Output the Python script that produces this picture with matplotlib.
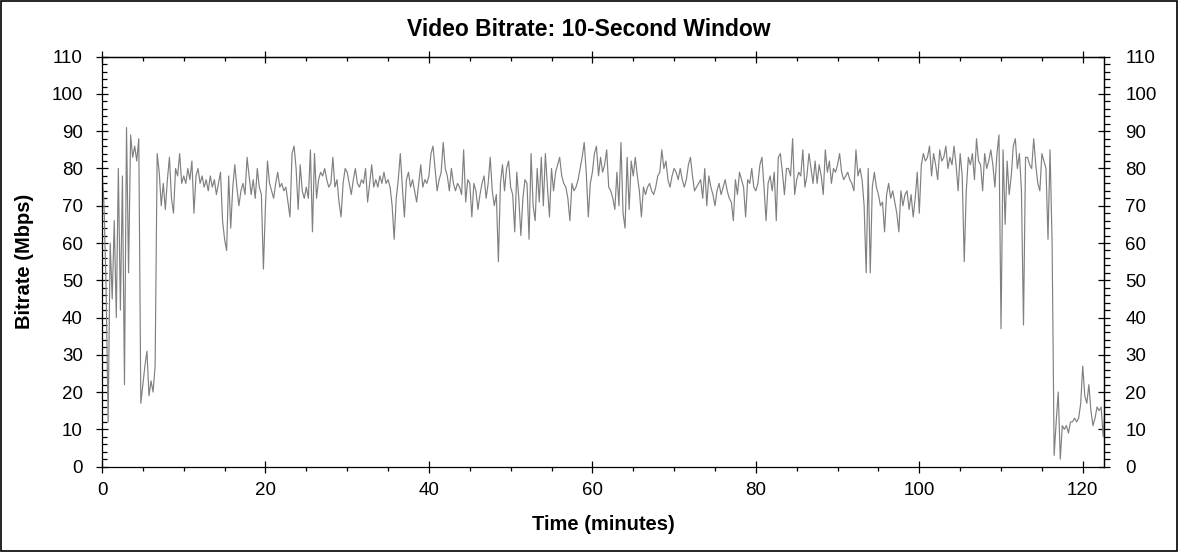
import matplotlib
matplotlib.use("Agg")
import matplotlib.pyplot as plt
import numpy as np
from matplotlib.ticker import MultipleLocator
from matplotlib.patches import Rectangle

plt.rcParams['font.family'] = ['Liberation Sans', 'DejaVu Sans']

# ---------------- data ----------------
SAMPLE_STEP_MIN = 0.25   # one value every 15 seconds

bitrate_mbps = [
    # 0 - 4.75 min
    80, 70, 48, 12, 60, 45, 66, 40, 80, 42, 78, 22, 91, 52, 89, 83, 86, 82, 88, 17,
    # 5 - 9.75
    22, 27, 31, 19, 23, 20, 27, 84, 79, 70, 76, 69, 77, 83, 72, 68, 80, 78, 84, 76,
    # 10 - 14.75
    78, 76, 80, 77, 82, 68, 78, 80, 76, 78, 75, 77, 74, 78, 75, 77, 73, 76, 79, 66,
    # 15 - 19.75
    61, 58, 78, 64, 75, 81, 75, 70, 74, 76, 73, 83, 78, 73, 77, 72, 80, 75, 73, 53,
    # 20 - 24.75
    70, 82, 76, 74, 72, 76, 79, 75, 76, 74, 75, 71, 67, 84, 86, 80, 69, 81, 74, 72,
    # 25 - 29.75
    75, 72, 85, 63, 84, 72, 77, 79, 78, 80, 77, 75, 76, 83, 75, 77, 71, 67, 76, 80,
    # 30 - 34.75
    79, 76, 73, 77, 80, 76, 75, 77, 76, 80, 71, 76, 81, 75, 77, 75, 78, 76, 79, 76,
    # 35 - 39.75
    77, 75, 70, 61, 72, 77, 84, 75, 67, 77, 79, 75, 77, 74, 71, 76, 81, 75, 77, 76,
    # 40 - 44.75
    78, 84, 86, 80, 74, 77, 79, 87, 80, 78, 74, 80, 76, 74, 76, 75, 73, 85, 71, 77,
    # 45 - 49.75
    76, 67, 76, 74, 69, 73, 76, 78, 72, 76, 83, 74, 70, 73, 55, 76, 81, 74, 80, 82,
    # 50 - 54.75
    75, 73, 63, 79, 72, 62, 72, 77, 76, 61, 84, 70, 66, 80, 71, 83, 70, 84, 75, 67,
    # 55 - 59.75
    80, 74, 79, 81, 83, 78, 76, 75, 72, 66, 76, 74, 75, 77, 80, 83, 87, 79, 67, 76,
    # 60 - 64.75
    79, 84, 86, 78, 83, 79, 81, 85, 75, 74, 72, 69, 79, 70, 87, 68, 64, 83, 69, 82,
    # 65 - 69.75
    78, 83, 78, 74, 67, 75, 73, 75, 76, 74, 73, 75, 78, 79, 85, 80, 82, 77, 75, 78,
    # 70 - 74.75
    80, 79, 77, 80, 77, 75, 77, 81, 83, 78, 74, 75, 76, 77, 72, 80, 70, 78, 75, 73,
    # 75 - 79.75
    70, 74, 76, 73, 75, 77, 74, 72, 71, 66, 77, 73, 79, 77, 75, 67, 77, 76, 80, 75,
    # 80 - 84.75
    74, 76, 81, 83, 75, 66, 76, 78, 74, 79, 66, 83, 84, 79, 73, 80, 80, 78, 88, 73,
    # 85 - 89.75
    77, 79, 78, 85, 75, 78, 84, 80, 76, 82, 76, 81, 78, 73, 85, 79, 82, 76, 80, 79,
    # 90 - 94.75
    81, 84, 79, 77, 78, 79, 77, 76, 74, 85, 78, 80, 77, 70, 52, 80, 52, 75, 79, 75,
    # 95 - 99.75
    73, 70, 71, 63, 73, 76, 72, 74, 71, 68, 63, 74, 70, 73, 74, 69, 73, 67, 72, 79,
    # 100 - 104.75
    68, 81, 84, 82, 83, 86, 78, 84, 81, 77, 85, 82, 83, 86, 80, 83, 81, 86, 81, 74,
    # 105 - 109.75
    84, 78, 55, 74, 83, 81, 84, 77, 88, 82, 81, 74, 84, 80, 82, 85, 81, 75, 84, 89,
    # 110 - 114.75
    37, 85, 65, 82, 73, 78, 86, 88, 80, 84, 74, 38, 83, 83, 81, 80, 88, 81, 76, 74,
    # 115 - 119.75
    84, 82, 80, 61, 85, 60, 3, 12, 20, 2, 11, 10, 11, 9, 12, 12, 13, 12, 13, 17,
    # 120 - 122.75
    27, 19, 17, 22, 15, 11, 13, 16, 15, 16, 8, 17,
]

x_tick_values = [0, 20, 40, 60, 80, 100, 120]
y_tick_values = [0, 10, 20, 30, 40, 50, 60, 70, 80, 90, 100, 110]

title_text = "Video Bitrate: 10-Second Window"
x_label_text = "Time (minutes)"
y_label_text = "Bitrate (Mbps)"

# ---------------- figure ----------------
W, H = 1178, 552
fig = plt.figure(figsize=(W / 100, H / 100), dpi=100)
fig.patch.set_facecolor("white")

left_px, right_px, top_px, bottom_px = 102, 1104, 56.7, 466.6
ax = fig.add_axes([left_px / W, 1 - bottom_px / H,
                   (right_px - left_px) / W, (bottom_px - top_px) / H])

time_min = np.arange(len(bitrate_mbps)) * SAMPLE_STEP_MIN
ax.plot(time_min, bitrate_mbps, color="#808080", linewidth=0.85)

ax.set_xlim(0, 122.6)
ax.set_ylim(0, 110)

for s in ax.spines.values():
    s.set_linewidth(0.9)
    s.set_color("black")

ax.set_xticks(x_tick_values)
ax.set_yticks(y_tick_values)
ax.xaxis.set_minor_locator(MultipleLocator(5))
ax.yaxis.set_minor_locator(MultipleLocator(2))

tick_font = 13.5
ax.tick_params(axis="both", which="major", direction="inout", length=8.6,
               width=0.9, labelsize=tick_font, colors="black",
               top=False, right=False)
ax.tick_params(axis="y", which="major", pad=9.5)
ax.tick_params(axis="x", which="major", pad=6.5)
ax.tick_params(axis="y", which="minor", direction="in", length=3.6, width=0.9,
               right=False)
ax.tick_params(axis="x", which="minor", direction="out", length=2.6, width=0.9,
               top=False)

# right axis (mirrored labels)
axr = ax.secondary_yaxis("right")
axr.set_yticks(y_tick_values)
axr.yaxis.set_minor_locator(MultipleLocator(2))
axr.tick_params(axis="y", which="major", direction="inout", length=8.6,
                width=0.9, labelsize=tick_font, pad=11)
axr.tick_params(axis="y", which="minor", direction="out", length=4.3, width=0.9)
axr.spines["right"].set_linewidth(0.9)

# top axis (ticks only)
axt = ax.secondary_xaxis("top")
axt.set_xticks(x_tick_values)
axt.xaxis.set_minor_locator(MultipleLocator(5))
axt.tick_params(axis="x", which="major", direction="inout", length=8.6,
                width=0.9, labeltop=False)
axt.tick_params(axis="x", which="minor", direction="in", length=3.0, width=0.9)
axt.spines["top"].set_linewidth(0.9)

# texts
fig.text(589 / W, 1 - 30 / H, title_text, ha="center", va="center",
         fontsize=16.5, fontweight="bold")
fig.text(603 / W, 1 - 525 / H, x_label_text, ha="center", va="center",
         fontsize=14.5, fontweight="bold")
fig.text(25 / W, 1 - 261.6 / H, y_label_text, ha="center", va="center",
         rotation=90, fontsize=14.5, fontweight="bold")

# outer border
fig.add_artist(Rectangle((0.6 / W, 0.6 / H), 1 - 1.2 / W, 1 - 1.2 / H,
                         transform=fig.transFigure, fill=False,
                         edgecolor="black", linewidth=1.2))

fig.savefig("out.png", dpi=100, facecolor="white")
